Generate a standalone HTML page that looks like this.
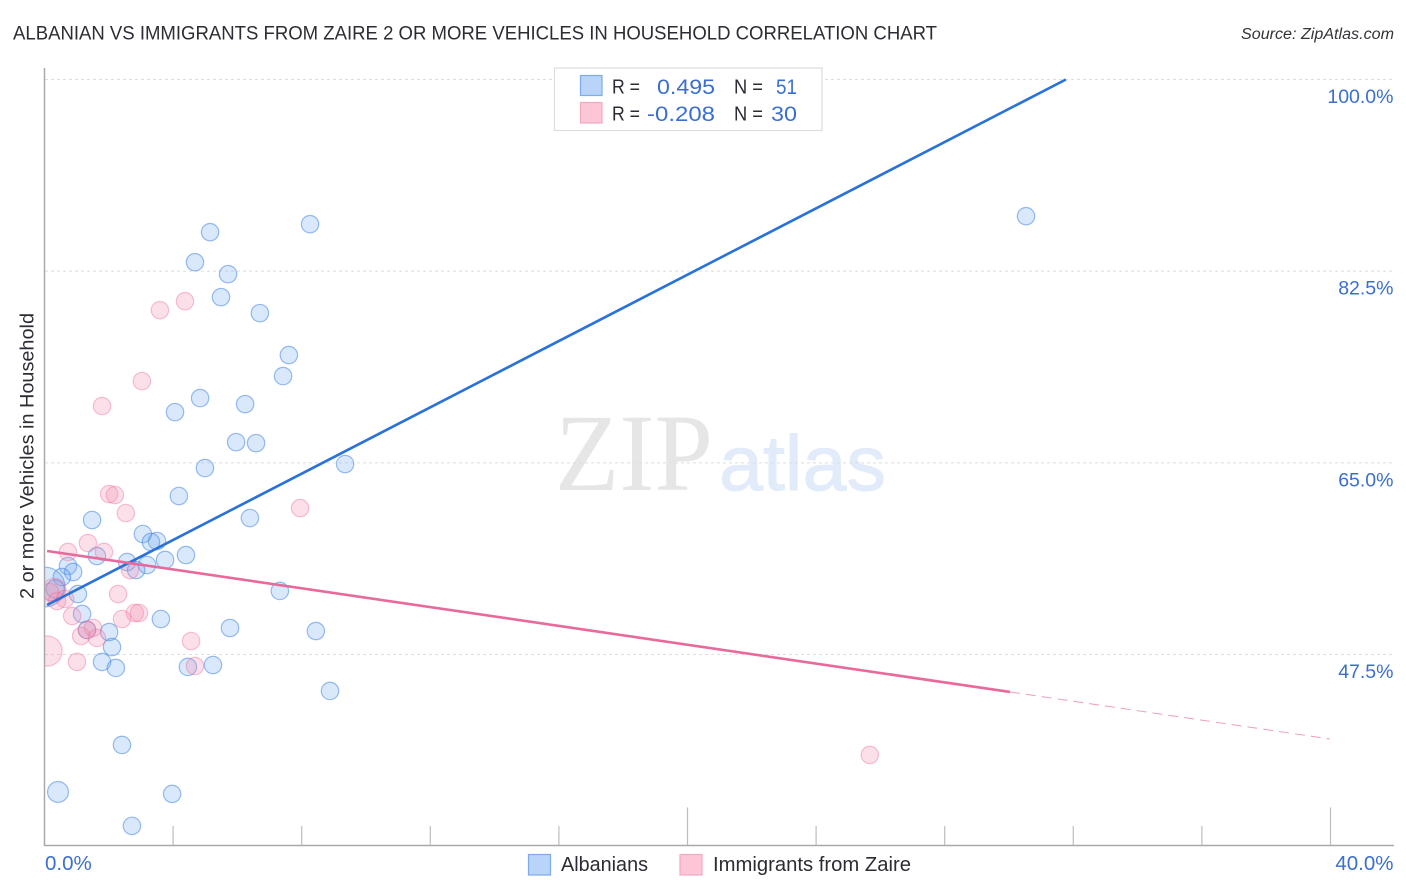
<!DOCTYPE html>
<html lang="en">
<head>
<meta charset="utf-8">
<title>Albanian vs Immigrants from Zaire 2 or More Vehicles in Household Correlation Chart</title>
<style>
html,body{margin:0;padding:0;background:#fff;}
body{width:1406px;height:892px;overflow:hidden;}
svg{display:block;font-family:"Liberation Sans",sans-serif;}
</style>
</head>
<body>
<svg id="chart" width="1406" height="892" viewBox="0 0 1406 892" xmlns="http://www.w3.org/2000/svg">
  <rect x="0" y="0" width="1406" height="892" fill="#ffffff"/>

  <g>
    <text x="555" y="490" font-family="'Liberation Serif',serif" font-size="110" fill="#e6e6e6" textLength="158" lengthAdjust="spacingAndGlyphs">ZIP</text>
    <text x="719" y="490" font-size="78" fill="#e1ebf9" stroke="#e1ebf9" stroke-width="1" textLength="167" lengthAdjust="spacingAndGlyphs">atlas</text>
  </g>

  <g id="grid"></g>

  <g id="blue-points"></g>
  <g id="pink-points"></g>
  <g id="trends"></g>

  <rect x="0" y="60" width="44.5" height="790" fill="#ffffff"/>

  <text x="13" y="39.5" font-size="19.5" fill="#2c2c34" textLength="924" lengthAdjust="spacingAndGlyphs">ALBANIAN VS IMMIGRANTS FROM ZAIRE 2 OR MORE VEHICLES IN HOUSEHOLD CORRELATION CHART</text>
  <text x="1241" y="39" font-size="15.5" font-style="italic" fill="#333338" textLength="153" lengthAdjust="spacingAndGlyphs">Source: ZipAtlas.com</text>

  <line x1="44.5" y1="68" x2="44.5" y2="846" stroke="#a9a9a9" stroke-width="1.5"/>
  <line x1="44" y1="845.5" x2="1394" y2="845.5" stroke="#a9a9a9" stroke-width="1.5"/>
  <g id="x-ticks"></g>
  <g id="y-labels"></g>
  <g id="x-labels"></g>

  <text transform="translate(33.5,599) rotate(-90)" x="0" y="0" font-size="19.5" fill="#2c2c34" textLength="286" lengthAdjust="spacingAndGlyphs">2 or more Vehicles in Household</text>

  <g>
    <rect x="554.5" y="68" width="267.5" height="62.5" fill="#ffffff" stroke="#dcdcdc" stroke-width="1.2"/>
    <rect x="580.5" y="75.5" width="21.5" height="20" fill="#b8d4f8" stroke="#7fabe6" stroke-width="1.2"/>
    <rect x="580.5" y="102.5" width="21.5" height="20.5" fill="#fcc6d7" stroke="#f3a9c1" stroke-width="1.2"/>
    <g font-size="20" fill="#2c2c34">
      <text x="612" y="93.5" textLength="28" lengthAdjust="spacingAndGlyphs">R =</text>
      <text x="612" y="120.5" textLength="28" lengthAdjust="spacingAndGlyphs">R =</text>
      <text x="734" y="93.5" textLength="29" lengthAdjust="spacingAndGlyphs">N =</text>
      <text x="734" y="120.5" textLength="29" lengthAdjust="spacingAndGlyphs">N =</text>
    </g>
    <g font-size="21.5" fill="#3a6fd0">
      <text x="657" y="94" textLength="58" lengthAdjust="spacingAndGlyphs">0.495</text>
      <text x="647" y="121" textLength="68" lengthAdjust="spacingAndGlyphs">-0.208</text>
      <text x="776" y="94" textLength="21" lengthAdjust="spacingAndGlyphs">51</text>
      <text x="771" y="121" textLength="26" lengthAdjust="spacingAndGlyphs">30</text>
    </g>
  </g>

  <g>
    <g>
      <rect x="528.5" y="854.5" width="22" height="20.5" fill="#b8d4f8" stroke="#7fabe6" stroke-width="1.2"/>
      <text x="561" y="871" font-size="20" fill="#2c2c34" textLength="87" lengthAdjust="spacingAndGlyphs">Albanians</text>
    </g>
    <g>
      <rect x="680" y="854.5" width="22" height="20.5" fill="#fcc6d7" stroke="#f3a9c1" stroke-width="1.2"/>
      <text x="713" y="871" font-size="20" fill="#2c2c34" textLength="198" lengthAdjust="spacingAndGlyphs">Immigrants from Zaire</text>
    </g>
  </g>
</svg>

<script>
const yTickValues = [47.5, 65, 82.5, 100];
const yTickLabels = ["47.5%", "65.0%", "82.5%", "100.0%"];
const xTickValues = [4, 8, 12, 16, 20, 24, 28, 32, 36, 40];
const xMajorTicks = [20, 40];
const xEndValues = [0, 40];
const xEndLabels = ["0.0%", "40.0%"];

const albaniansX = [30.53,8.26,5.15,4.68,5.71,5.49,6.70,7.60,7.42,4.84,6.24,4.06,5.96,6.58,9.35,4.99,4.18,6.39,1.48,3.06,3.50,3.31,4.40,1.63,3.75,2.57,3.19,2.85,0.73,0.89,0.54,0.02,0.33,1.04,7.32,1.17,3.62,5.77,8.44,2.01,1.32,2.10,1.79,2.22,4.46,5.24,8.88,2.41,0.42,3.97,2.72];
const albaniansY = [87.52,86.79,86.06,83.32,82.23,80.13,78.67,74.84,72.92,70.91,70.36,69.63,66.89,66.80,64.89,64.52,61.97,59.96,59.78,58.50,57.86,57.77,56.58,56.49,56.13,55.94,55.67,55.21,55.58,55.03,54.57,53.66,53.48,53.02,53.30,51.20,50.74,49.92,49.64,49.55,49.74,48.18,46.82,46.27,46.36,46.54,44.17,39.24,34.95,34.77,31.85];
const albaniansWeight = [1,1,1,1,1,1,1,1,1,1,1,1,1,1,1,1,1,1,1,1,1,1,1,1,1,1,1,1,1,1,1,5.2,1.1,1,1,1,1,1,1,1,1,1,1,1,1,1,1,1,1.45,1,1];

const zaireX = [4.37,3.59,3.03,1.79,2.01,2.19,2.53,7.95,1.35,1.85,0.73,2.66,2.29,0.30,0.39,0.64,0.86,2.81,2.94,2.41,1.51,1.14,1.63,1.32,4.56,0.08,1.01,4.68,25.67,0.17];
const zaireY = [79.76,78.94,72.46,70.18,62.15,62.06,60.41,60.87,57.68,56.86,56.86,55.21,53.02,53.39,52.38,52.57,51.01,51.29,51.29,50.74,49.92,49.19,49.01,49.74,48.73,47.82,46.82,46.45,38.33,53.2];
const zaireWeight = [1,1,1,1,1,1,1,1,1,1,1,1,1,1.8,1,1,1,1,1,1,1,1,1,1,1,3,1,1,1,1];

const albaniansTrendX = [0.08, 31.77];
const albaniansTrendY = [52.02, 100];
const zaireTrendX = [0.08, 30.03];
const zaireTrendY = [56.95, 44.08];
const zaireExtensionX = [30.03, 39.98];
const zaireExtensionY = [44.08, 39.79];

const NS = "http://www.w3.org/2000/svg";
function xScale(v){ return 44.5 + v * (1330.5 - 44.5) / 40; }
function yScale(v){ return 654.5 - (v - 47.5) * (654.5 - 79.5) / 52.5; }
function rScale(w){ return 8.7 * Math.sqrt(w); }
function make(tag, parentId){
  const el = document.createElementNS(NS, tag);
  document.getElementById(parentId).appendChild(el);
  return el;
}
function setAll(el, attrs){
  for (const k in attrs) el.setAttribute(k, attrs[k]);
}

yTickValues.forEach(function(v, i){
  const line = make("line", "grid");
  
  
  setAll(line, {x1: 45, x2: 1394, y1: yScale(v), y2: yScale(v), stroke: "#dedede", "stroke-width": 1, "stroke-dasharray": "3 3"});
  const label = make("text", "y-labels");
  
  
  setAll(label, {x: 1393.5, y: yScale(v) + 23.5, "text-anchor": "end", "font-size": 19.5, fill: "#3a6fd0"});
  label.textContent = yTickLabels[i];
});

xTickValues.forEach(function(v){
  const tick = make("line", "x-ticks");
  
  
  const top = xMajorTicks.indexOf(v) >= 0 ? 807.5 : 826;
  setAll(tick, {x1: xScale(v), x2: xScale(v), y1: top, y2: 845, stroke: "#bdbdbd", "stroke-width": 1.2});
});

xEndValues.forEach(function(v, i){
  const label = make("text", "x-labels");
  
  
  const isFirst = i === 0;
  setAll(label, {x: isFirst ? xScale(v) + 0.5 : xScale(v) + 63, y: 870, "text-anchor": isFirst ? "start" : "end", "font-size": 20.5, fill: "#3a6fd0"});
  label.textContent = xEndLabels[i];
});

albaniansX.forEach(function(v, i){
  const c = make("circle", "blue-points");
  
  
  setAll(c, {cx: xScale(v), cy: yScale(albaniansY[i]), r: rScale(albaniansWeight[i]), fill: "rgba(110,165,240,0.26)", stroke: "rgba(55,125,225,0.5)", "stroke-width": 1.2});
});

zaireX.forEach(function(v, i){
  const c = make("circle", "pink-points");
  
  
  setAll(c, {cx: xScale(v), cy: yScale(zaireY[i]), r: rScale(zaireWeight[i]), fill: "rgba(245,140,175,0.27)", stroke: "rgba(238,110,155,0.42)", "stroke-width": 1.2});
});

const blueTrend = make("line", "trends");


setAll(blueTrend, {x1: xScale(albaniansTrendX[0]), y1: yScale(albaniansTrendY[0]), x2: xScale(albaniansTrendX[1]), y2: yScale(albaniansTrendY[1]), stroke: "#2a72d8", "stroke-width": 2.6});

const pinkTrend = make("line", "trends");


setAll(pinkTrend, {x1: xScale(zaireTrendX[0]), y1: yScale(zaireTrendY[0]), x2: xScale(zaireTrendX[1]), y2: yScale(zaireTrendY[1]), stroke: "#e8699b", "stroke-width": 2.6});

const pinkExt = make("line", "trends");


setAll(pinkExt, {x1: xScale(zaireExtensionX[0]), y1: yScale(zaireExtensionY[0]), x2: xScale(zaireExtensionX[1]), y2: yScale(zaireExtensionY[1]), stroke: "#ee9dbb", "stroke-width": 1, "stroke-dasharray": "10 6"});
</script>
</body>
</html>
